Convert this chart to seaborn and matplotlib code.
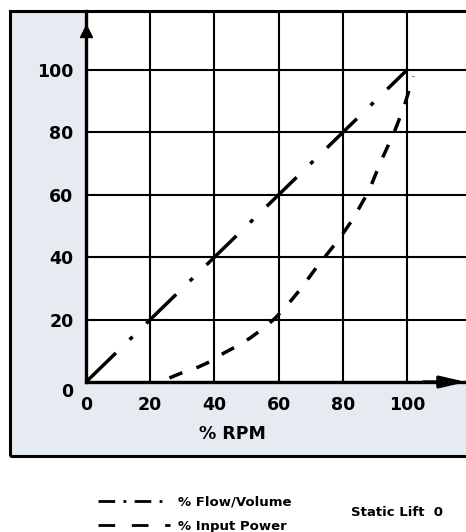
import matplotlib
matplotlib.use("Agg")
import matplotlib.pyplot as plt
import matplotlib.transforms as mtransforms
from matplotlib.lines import Line2D
from matplotlib.patches import Rectangle
import seaborn as sns
import pandas as pd

# values
rpm_flow = [0, 20, 40, 60, 80, 100]
flow_volume = [0, 20, 40, 60, 80, 100]

rpm_power = [26, 30, 35, 39, 43, 47, 51, 55, 59, 63, 67, 72, 79, 83, 88,
             92, 96, 99, 102]
input_power = [1.3, 3, 4.8, 6.7, 9.3, 11.5, 14, 17, 20.5, 25, 30, 37, 46,
               52, 61, 71, 80, 88, 98]

tick_values = [0, 20, 40, 60, 80, 100]
legend_labels = ["% Flow/Volume", "% Input Power"]
side_note = "Static Lift  0"

sns.set_style("white")
plt.rcParams["font.family"] = ["DejaVu Sans"]
plt.rcParams["text.color"] = "black"
plt.rcParams["xtick.color"] = "black"
plt.rcParams["ytick.color"] = "black"
plt.rcParams["axes.labelcolor"] = "black"

W, H = 466, 532
fig = plt.figure(figsize=(W / 100, H / 100), dpi=100)

# light panel behind the plot, black frame on top of everything
frame_xy = (10 / W, 1 - 456 / H)
frame_w, frame_h = 1.0, (456 - 11) / H
fig.patches.append(Rectangle(frame_xy, frame_w, frame_h,
                             transform=fig.transFigure, facecolor="#e6ebf2",
                             edgecolor="none", zorder=-2))
fig.patches.append(Rectangle(frame_xy, frame_w, frame_h,
                             transform=fig.transFigure, facecolor="none",
                             edgecolor="black", linewidth=2.2, zorder=10))

ax = fig.add_axes([86 / W, 1 - 382 / H, (W - 86) / W, (382 - 11) / H])
ax.set_facecolor("white")

df_flow = pd.DataFrame({"rpm": rpm_flow, "val": flow_volume})
df_power = pd.DataFrame({"rpm": rpm_power, "val": input_power})

sns.lineplot(data=df_flow, x="rpm", y="val", ax=ax, color="black",
             linewidth=2.5, sort=False)
sns.lineplot(data=df_power, x="rpm", y="val", ax=ax, color="black",
             linewidth=2.5, sort=False)
ax.lines[0].set_dashes((12, 5.5, 1.2, 5.5))
ax.lines[1].set_dashes((4, 4.3))
for ln in ax.lines:
    ln.set_zorder(4)

ax.set_xlim(0, (W - 86) / 3.21)
ax.set_ylim(0, (382 - 11) / 3.12)

# grid
ax.set_xticks(tick_values)
ax.set_yticks(tick_values)
ax.set_xticklabels(tick_values)
ax.set_yticklabels(tick_values)
ax.grid(True, color="black", linewidth=1.5)
ax.set_axisbelow(True)
ax.tick_params(length=0, labelsize=12.5)
ax.tick_params(axis="x", pad=10)
ax.tick_params(axis="y", pad=9)
for lab in ax.get_xticklabels() + ax.get_yticklabels():
    lab.set_fontweight("bold")
# the 0 on the y axis sits a little below the line
y0 = ax.get_yticklabels()[0]
y0.set_transform(y0.get_transform() +
                 mtransforms.ScaledTranslation(0, -8 / 100, fig.dpi_scale_trans))

for side in ["top", "right"]:
    ax.spines[side].set_visible(False)
ax.spines["left"].set_linewidth(2.4)
ax.spines["bottom"].set_linewidth(2.4)
ax.spines["left"].set_color("black")
ax.spines["bottom"].set_color("black")
ax.spines["left"].set_zorder(5)
ax.spines["bottom"].set_zorder(5)

# axis arrows
ax.annotate("", xy=(118.4, 0), xytext=(105, 0),
            arrowprops=dict(arrowstyle="-|>,head_length=1.5,head_width=0.35",
                            color="black", lw=2.4, shrinkA=0, shrinkB=0),
            annotation_clip=False, zorder=6)
ax.plot([0], [112.5], marker="^", markersize=9, color="black",
        clip_on=False, zorder=6)

ax.set_xlabel("% RPM", fontsize=12.5, fontweight="bold", labelpad=8)
ax.xaxis.label.set_x((232 - 86) / (W - 86))
ax.set_ylabel("")

# legend below the frame
handles = [Line2D([], [], color="black", linewidth=2, dashes=(6, 3, 1, 3)),
           Line2D([], [], color="black", linewidth=2, dashes=(6, 6))]
fig.legend(handles, legend_labels, loc="upper left",
           bbox_to_anchor=(86 / W, 1 - 484 / H), frameon=False,
           handlelength=5.5, handletextpad=0.6, labelspacing=0.85,
           prop={"weight": "bold", "size": 9.5})
fig.text(397 / W, 1 - 513 / H, side_note, ha="center", va="center",
         fontsize=9.5, fontweight="bold")

fig.savefig("out.png", dpi=100)
